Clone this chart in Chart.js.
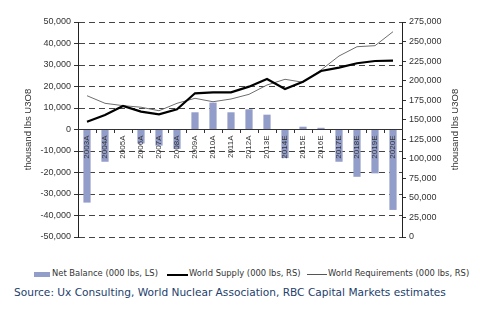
<!DOCTYPE html>
<html lang="en">
<head>
  <meta charset="UTF-8">
  <title>Uranium supply and requirements</title>
  <style>
    body { margin: 0; background: #fff; width: 480px; height: 324px; overflow: hidden; font-family: "DejaVu Sans", sans-serif; }
    #wrap { position: relative; width: 480px; height: 250px; }
    .legend { position: absolute; top: 268px; left: 0; width: 480px; height: 12px; font-size: 8.4px; color: #333; }
    .legend span { position: absolute; top: 0; white-space: nowrap; }
    .legend i { position: absolute; display: block; }
    .source { position: absolute; top: 286px; left: 14px; font-size: 10.6px; color: #24406c; white-space: nowrap; }
  </style>
</head>
<body>
  <div id="wrap"><canvas id="chart" width="480" height="250"></canvas></div>
  <div class="legend">
    <i style="left:34px; top:4px; width:16px; height:5px; background:#939dc9"></i>
    <span style="left:52px">Net Balance (000 lbs, LS)</span>
    <i style="left:167px; top:6px; width:21px; height:2px; background:#000"></i>
    <span style="left:189px">World Supply (000 lbs, RS)</span>
    <i style="left:307px; top:6px; width:20px; height:1px; background:#555"></i>
    <span style="left:328px">World Requirements (000 lbs, RS)</span>
  </div>
  <div class="source">Source: Ux Consulting, World Nuclear Association, RBC Capital Markets estimates</div>

  <script src="https://cdn.jsdelivr.net/npm/chart.js"></script>
  <script>
    const years = ['2003A', '2004A', '2005A', '2006A', '2007A', '2008A', '2009A', '2010A', '2011A',
      '2012A', '2013E', '2014E', '2015E', '2016E', '2017E', '2018E', '2019E', '2020E'];
    const netBalance = [-34000, -15000, 0, -6500, -7500, -9000, 8000, 12500, 8000,
      9400, 6900, -13300, 1300, 800, -15000, -22000, -20400, -37400];
    const worldSupply = [147500, 156000, 167500, 160300, 157000, 163300, 183800, 185000, 185000,
      192300, 202000, 189300, 198600, 212300, 216600, 222200, 225100, 225500];
    const worldRequirements = [180700, 171000, 168000, 166000, 161500, 171000, 177400, 173000, 176500,
      182500, 194400, 201700, 197900, 213600, 231500, 243400, 244700, 262600];
    const leftTitle = 'thousand lbs U3O8';
    const rightTitle = 'thousand lbs U3O8';

    const tickFont = { family: 'Liberation Sans', size: 9 };

    // side titles read bottom-to-top on both axes
    const sideTitles = {
      id: 'sideTitles',
      afterDraw(chart) {
        const c = chart.ctx;
        const mid = (chart.chartArea.top + chart.chartArea.bottom) / 2;
        c.save();
        c.font = '9.5px "Liberation Sans"';
        c.fillStyle = '#333';
        c.textAlign = 'center';
        c.textBaseline = 'middle';
        [[28, leftTitle], [455, rightTitle]].forEach(([x, t]) => {
          c.save();
          c.translate(x, mid);
          c.rotate(-Math.PI / 2);
          c.fillText(t, 0, 0);
          c.restore();
        });
        c.restore();
      }
    };

    new Chart(document.getElementById('chart'), {
      data: {
        labels: years,
        datasets: [
          {
            type: 'line', label: 'World Supply (000 lbs, RS)', data: worldSupply, yAxisID: 'y1',
            borderColor: '#000', borderWidth: 2.2, pointRadius: 0, tension: 0, order: 1
          },
          {
            type: 'line', label: 'World Requirements (000 lbs, RS)', data: worldRequirements, yAxisID: 'y1',
            borderColor: '#6e6e6e', borderWidth: 1, pointRadius: 0, tension: 0, order: 2
          },
          {
            type: 'bar', label: 'Net Balance (000 lbs, LS)', data: netBalance, yAxisID: 'y',
            backgroundColor: '#939dc9', barPercentage: 0.4, categoryPercentage: 1, order: 3
          }
        ]
      },
      options: {
        responsive: false,
        animation: false,
        layout: { padding: { top: 22, bottom: 13, left: 0, right: 0 } },
        plugins: { legend: { display: false }, tooltip: { enabled: false } },
        scales: {
          x: {
            position: { y: 0 },
            offset: true,
            grid: { drawOnChartArea: false, drawTicks: true, tickLength: 3, color: '#333', offset: true },
            border: { color: '#333', width: 1, z: 1 },
            ticks: { z: 1, font: { family: 'Liberation Sans', size: 8 }, color: '#333', minRotation: 90, maxRotation: 90, padding: 3, autoSkip: false }
          },
          y: {
            position: 'left',
            min: -50000, max: 50000,
            afterFit(s) { s.width = 78; },
            grid: {
              color: ctx => ctx.tick && ctx.tick.value === 0 ? 'rgba(0,0,0,0)' : '#444',
              tickColor: '#333', tickLength: 4, tickBorderDash: [], lineWidth: 1
            },
            border: { color: '#222', width: 1, dash: [6, 4] },
            ticks: { stepSize: 10000, font: tickFont, color: '#333', padding: 3,
              callback: v => v.toLocaleString('en-US') }
          },
          y1: {
            position: 'right',
            min: 0, max: 275000,
            afterFit(s) { s.width = 78; },
            grid: { drawOnChartArea: false, tickColor: '#333', tickLength: 4 },
            border: { color: '#222', width: 1 },
            ticks: { stepSize: 25000, font: tickFont, color: '#333', padding: 3,
              callback: v => v.toLocaleString('en-US') }
          }
        }
      },
      plugins: [sideTitles]
    });
  </script>
</body>
</html>
